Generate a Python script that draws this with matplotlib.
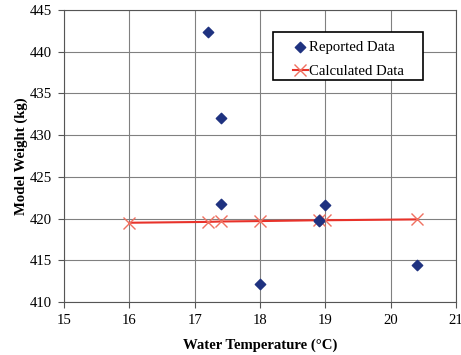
import numpy as np
import matplotlib.pyplot as plt
from matplotlib.patches import Rectangle

# Reported data
rep_temp = [17.2, 17.4, 17.4, 18.0, 18.9, 18.9, 19.0, 20.4]
rep_weight = [442.4, 432.0, 421.8, 412.2, 419.8, 419.7, 421.6, 414.4]

# Calculated data
calc_temp = [16.0, 17.2, 17.4, 18.0, 18.9, 19.0, 20.4]
calc_weight = [419.5, 419.6, 419.65, 419.7, 419.8, 419.8, 419.9]

plt.rcParams['font.family'] = ['Liberation Serif', 'DejaVu Serif']
fs = 10.6

fig = plt.figure(figsize=(4.61, 3.55), dpi=100)
ax = fig.add_axes([64 / 461, 1 - 302 / 355, (456 - 64) / 461, (302 - 10) / 355])

ax.plot(calc_temp, calc_weight, color='#e8322a', lw=1.5, marker='x',
        markersize=8, markeredgecolor='#f07060', markeredgewidth=1.0,
        label='Calculated Data', zorder=3)
ax.scatter(rep_temp, rep_weight, marker='D', s=28, color='#1f3280',
           label='Reported Data', zorder=4)

ax.set_xlim(15, 21)
ax.set_ylim(410, 445)
ax.set_xticks(np.arange(15, 22, 1))
ax.set_yticks(np.arange(410, 446, 5))
ax.grid(True, color='#808080', lw=0.8)
ax.set_axisbelow(True)
for s in ax.spines.values():
    s.set_color('#555555')
ax.tick_params(labelsize=fs, length=4, color='#555555', direction='out', pad=5)

ax.set_xlabel('Water Temperature (°C)', fontsize=fs, fontweight='bold', labelpad=8)
ax.set_ylabel('Model Weight (kg)', fontsize=fs, fontweight='bold', labelpad=1)

# legend box drawn separately so it can be wider than its contents
ax.add_patch(Rectangle((0.533, 0.760), 0.383, 0.165, transform=ax.transAxes,
                       facecolor='white', edgecolor='black', lw=1.2, zorder=5))
h, l = ax.get_legend_handles_labels()
leg = ax.legend(h[::-1], l[::-1], loc='upper left', bbox_to_anchor=(0.584, 0.895),
                fontsize=fs, frameon=False, handlelength=1.0, handletextpad=0.1,
                borderpad=0, labelspacing=0.75, borderaxespad=0)
leg.set_zorder(6)

fig.savefig('out.png', dpi=100)
